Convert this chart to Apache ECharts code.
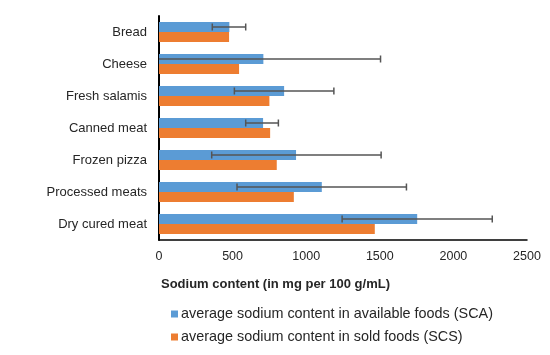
<!DOCTYPE html>
<html><head><meta charset="utf-8">
<script src="https://cdn.jsdelivr.net/npm/echarts@6/dist/echarts.min.js"></script>
<style>html,body{margin:0;padding:0;background:#fff}#c{width:550px;height:355px}</style>
</head><body><div id="c"></div>
<script>
var categories = ['Bread','Cheese','Fresh salamis','Canned meat','Frozen pizza','Processed meats','Dry cured meat'];
var scaValues = [478, 709, 850, 707, 931, 1106, 1754];
var scsValues = [476, 544, 750, 755, 800, 916, 1466];
var scaErrLow = [362, 0, 512, 589, 358, 530, 1244];
var scaErrHigh = [589, 1505, 1188, 811, 1509, 1681, 2264];
var xTicks = [0, 500, 1000, 1500, 2000, 2500];

var chart = echarts.init(document.getElementById('c'), null, {renderer:'canvas'});
var barW = 10;
var font = 'Liberation Sans, Arial, sans-serif';
var errData = categories.map(function(c,i){return [i, scaErrLow[i], scaErrHigh[i], scaErrLow[i] > 0];});

chart.setOption({
  animation:false,
  grid:{left:159, right:23, top:16, bottom:115, containLabel:false},
  xAxis:{type:'value', min:xTicks[0], max:xTicks[xTicks.length-1], interval:500,
    axisLine:{show:true, lineStyle:{color:'#000', width:1.5}},
    axisTick:{show:false}, splitLine:{show:false},
    axisLabel:{color:'#262626', fontSize:12.5, fontFamily:font, margin:10,
      formatter:function(v){return String(v);}}},
  yAxis:{type:'category', data:categories, inverse:true,
    axisLine:{show:true, lineStyle:{color:'#000', width:2}},
    axisTick:{show:false},
    axisLabel:{color:'#262626', fontSize:13, fontFamily:font, margin:12}},
  title:{text:'Sodium content (in mg per 100 g/mL)', left:161, top:278, padding:0,
    textStyle:{fontSize:13, fontWeight:'bold', color:'#262626', fontFamily:font}},
  legend:{orient:'vertical', left:166, top:302, itemWidth:7, itemHeight:7, itemGap:9,
    icon:'rect', textStyle:{fontSize:14.4, color:'#262626', fontFamily:font, padding:[0,0,0,-2]},
    data:['average sodium content in available foods (SCA)','average sodium content in sold foods (SCS)']},
  series:[
    {name:'average sodium content in available foods (SCA)', type:'bar', data:scaValues,
      barWidth:barW, barGap:'0%', itemStyle:{color:'#5B9BD5'}},
    {name:'average sodium content in sold foods (SCS)', type:'bar', data:scsValues,
      barWidth:barW, barGap:'0%', itemStyle:{color:'#ED7D31'}},
    {type:'custom', data:errData, z:10, encode:{x:[1,2], y:0},
      renderItem:function(params, api){
        var idx = api.value(0);
        var p1 = api.coord([api.value(1), idx]);
        var p2 = api.coord([api.value(2), idx]);
        var y = p1[1] - barW/2;
        var style = {stroke:'#555555', lineWidth:1.5};
        var children = [
          {type:'line', shape:{x1:p1[0], y1:y, x2:p2[0], y2:y}, style:style},
          {type:'line', shape:{x1:p2[0], y1:y-3.5, x2:p2[0], y2:y+3.5}, style:style}
        ];
        if (api.value(3)) children.push({type:'line', shape:{x1:p1[0], y1:y-3.5, x2:p1[0], y2:y+3.5}, style:style});
        return {type:'group', children:children};
      }}
  ]
});
</script></body></html>
